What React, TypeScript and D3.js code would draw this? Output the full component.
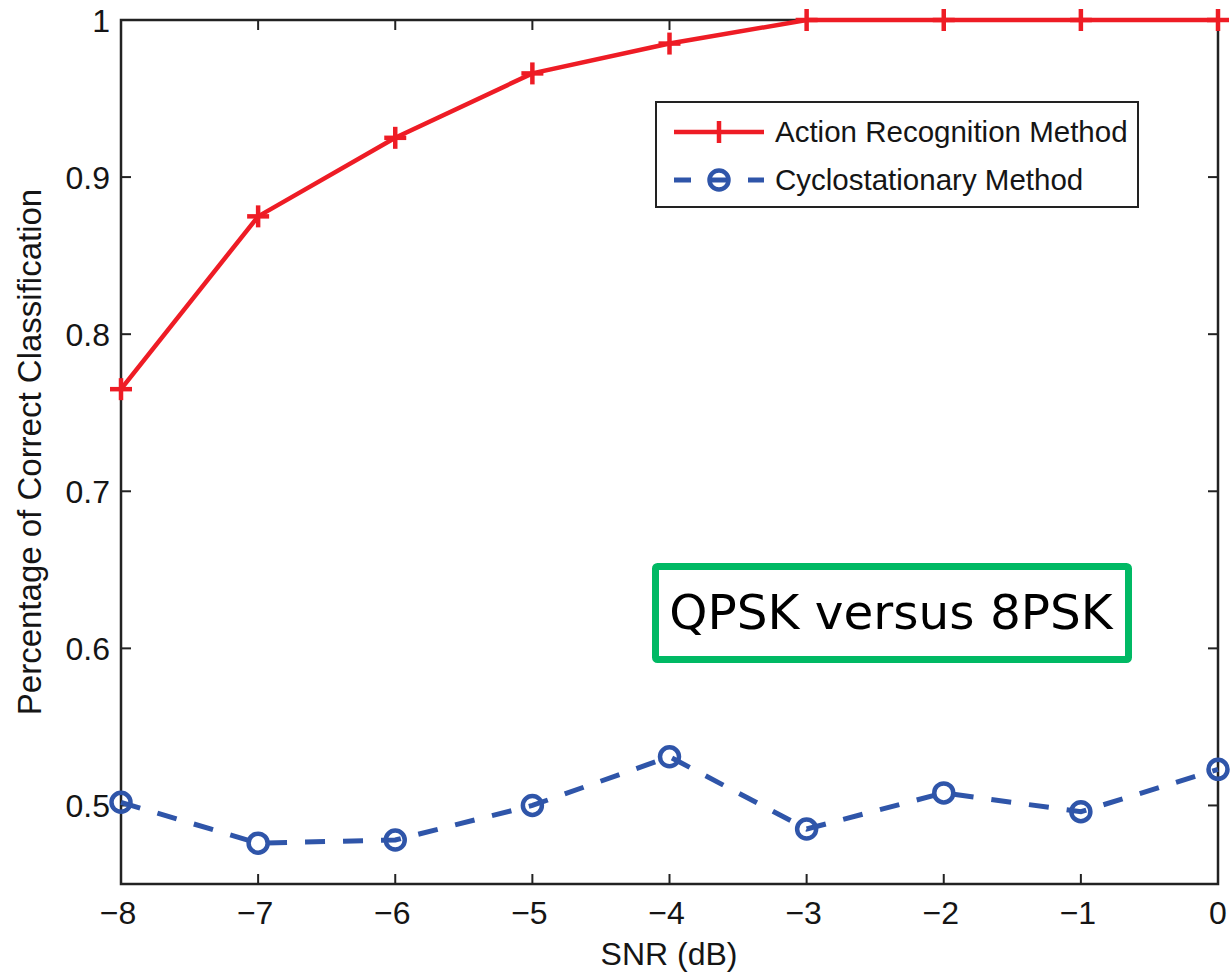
import React from "react";
import * as d3 from "d3";

const snr = [-8, -7, -6, -5, -4, -3, -2, -1, 0];
const actionRecognition = [0.765, 0.875, 0.925, 0.966, 0.985, 1, 1, 1, 1];
const cyclostationary = [0.502, 0.476, 0.478, 0.5, 0.531, 0.485, 0.508, 0.496, 0.523];
const xTicks = [-8, -7, -6, -5, -4, -3, -2, -1, 0];
const yTicks = [0.5, 0.6, 0.7, 0.8, 0.9, 1];

const W = 1230;
const H = 974;
const M = { left: 121, right: 1218, top: 20, bottom: 884 };
const RED = "#ee1c25";
const BLUE = "#2f55a9";
const FONT = "Liberation Sans, Arial, sans-serif";
const INK = "#151515";

export default function App() {
  const x = d3.scaleLinear().domain([-8, 0]).range([M.left, M.right]);
  const y = d3.scaleLinear().domain([0.45, 1]).range([M.bottom, M.top]);
  const line = d3
    .line<[number, number]>()
    .x((d) => x(d[0]))
    .y((d) => y(d[1]));
  const redPts = snr.map((s, i) => [s, actionRecognition[i]] as [number, number]);
  const bluePts = snr.map((s, i) => [s, cyclostationary[i]] as [number, number]);
  const fmt = (v: number) => (v === 1 ? "1" : v.toFixed(1));
  const minus = (v: number) => (v < 0 ? "\u2212" + Math.abs(v) : String(v));
  const tick = 10;

  return (
    <svg
      width={W}
      height={H}
      style={{ position: "absolute", left: 0, top: 0, background: "#fff" }}
      fontFamily={FONT}
    >
      {/* ticks */}
      {xTicks.map((t) => (
        <g key={"xt" + t} stroke="#222" strokeWidth={2}>
          <line x1={x(t)} x2={x(t)} y1={M.bottom} y2={M.bottom - tick} />
          <line x1={x(t)} x2={x(t)} y1={M.top} y2={M.top + tick} />
        </g>
      ))}
      {yTicks.map((t) => (
        <g key={"yt" + t} stroke="#222" strokeWidth={2}>
          <line x1={M.left} x2={M.left + tick} y1={y(t)} y2={y(t)} />
          <line x1={M.right} x2={M.right - tick} y1={y(t)} y2={y(t)} />
        </g>
      ))}
      <rect
        x={M.left}
        y={M.top}
        width={M.right - M.left}
        height={M.bottom - M.top}
        fill="none"
        stroke="#222"
        strokeWidth={2.5}
      />
      {/* tick labels */}
      {xTicks.map((t) => (
        <text
          key={"xl" + t}
          x={x(t) - (t < 0 ? 3 : 0)}
          y={924}
          textAnchor="middle"
          fontSize={32}
          fill={INK}
        >
          {minus(t)}
        </text>
      ))}
      {yTicks.map((t) => (
        <text
          key={"yl" + t}
          x={110}
          y={y(t) + 11.5}
          textAnchor="end"
          fontSize={32}
          fill={INK}
        >
          {fmt(t)}
        </text>
      ))}
      <text x={669} y={965} textAnchor="middle" fontSize={32} fill={INK}>
        SNR (dB)
      </text>
      <text
        transform={`translate(41,${(M.top + M.bottom) / 2}) rotate(-90)`}
        textAnchor="middle"
        fontSize={33}
        fill={INK}
      >
        Percentage of Correct Classification
      </text>

      {/* series */}
      <path d={line(redPts) ?? ""} fill="none" stroke={RED} strokeWidth={4.5} />
      {redPts.map((p, i) => (
        <g key={"rm" + i} stroke={RED} strokeWidth={4.5}>
          <line x1={x(p[0]) - 11} x2={x(p[0]) + 11} y1={y(p[1])} y2={y(p[1])} />
          <line x1={x(p[0])} x2={x(p[0])} y1={y(p[1]) - 11} y2={y(p[1]) + 11} />
        </g>
      ))}
      <path
        d={line(bluePts) ?? ""}
        fill="none"
        stroke={BLUE}
        strokeWidth={5}
        strokeDasharray="20 18"
      />
      {bluePts.map((p, i) => (
        <circle
          key={"bm" + i}
          cx={x(p[0])}
          cy={y(p[1])}
          r={9.5}
          fill="none"
          stroke={BLUE}
          strokeWidth={4.5}
        />
      ))}

      {/* legend */}
      <rect x={656} y={102} width={482} height={105} fill="#fff" stroke="#222" strokeWidth={2} />
      <line x1={674} x2={764} y1={132} y2={132} stroke={RED} strokeWidth={4.5} />
      <line x1={719} x2={719} y1={121} y2={143} stroke={RED} strokeWidth={4.5} />
      <text x={775} y={142} fontSize={29.5} fill={INK}>
        Action Recognition Method
      </text>
      <line
        x1={674}
        x2={764}
        y1={180}
        y2={180}
        stroke={BLUE}
        strokeWidth={5}
        strokeDasharray="17 20"
      />
      <circle cx={719} cy={180} r={9.5} fill="none" stroke={BLUE} strokeWidth={4.5} />
      <text x={775} y={190} fontSize={29.5} fill={INK}>
        Cyclostationary Method
      </text>

      {/* annotation */}
      <rect
        x={655.5}
        y={566.5}
        width={473}
        height={93}
        fill="#fff"
        stroke="#00b964"
        strokeWidth={7}
        rx={2}
      />
      <text
        x={891}
        y={629}
        textAnchor="middle"
        fontSize={48.5}
        fontFamily="DejaVu Sans, Verdana, sans-serif"
        fill="#000"
      >
        QPSK versus 8PSK
      </text>
    </svg>
  );
}
